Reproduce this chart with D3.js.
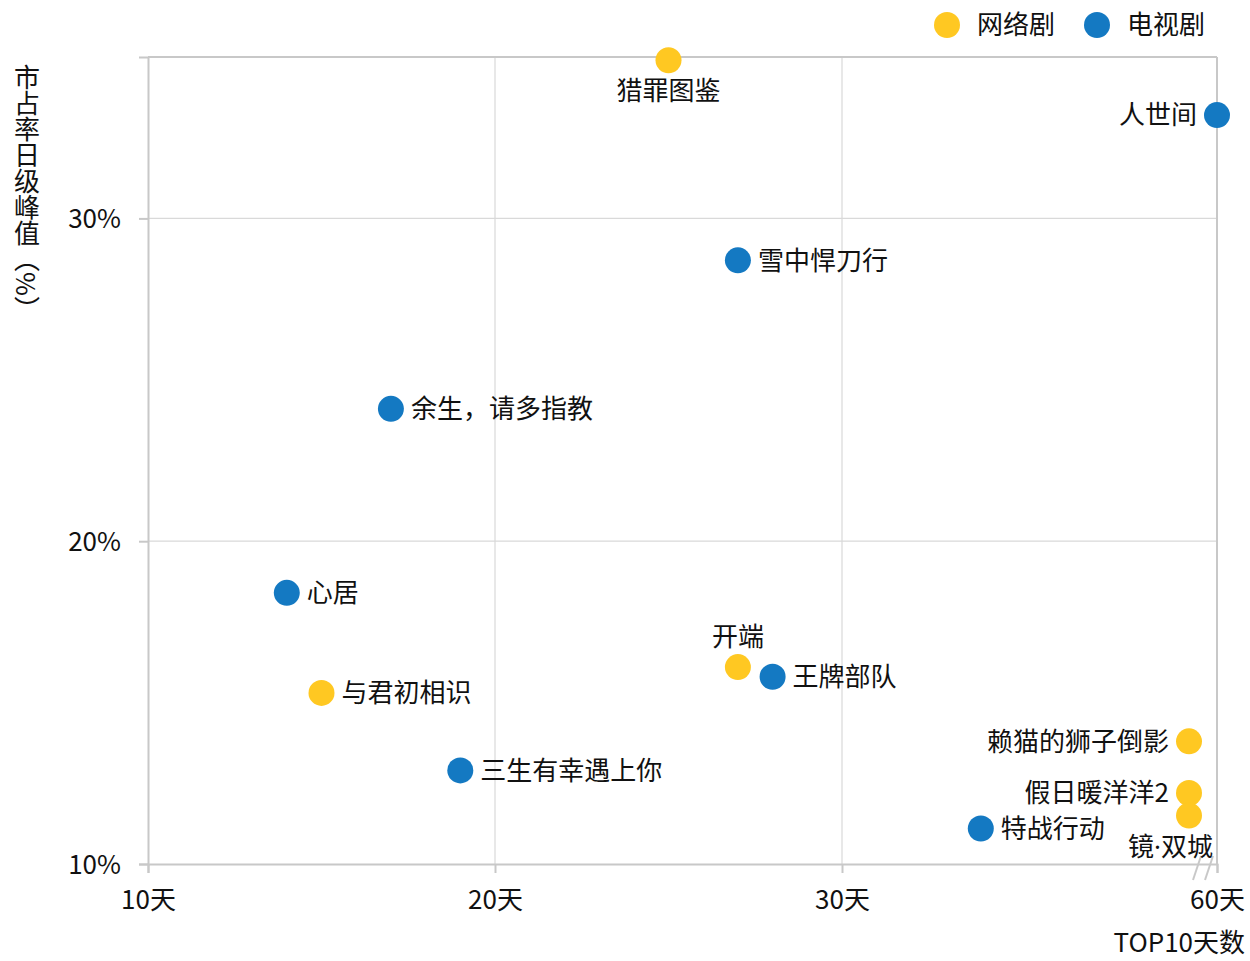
<!DOCTYPE html>
<html><head><meta charset="utf-8">
<script src="https://cdn.jsdelivr.net/npm/d3@7"></script>
<style>
html,body{margin:0;padding:0;background:#fff;}
text{font-family:"Noto Sans CJK SC","Noto Sans",sans-serif;fill:#111;}
</style></head>
<body><svg id="c" width="1250" height="961"></svg>
<script>
// ---- data ----
const names = ["猎罪图鉴","人世间","雪中悍刀行","余生，请多指教","心居","开端","王牌部队","与君初相识","三生有幸遇上你","特战行动","赖猫的狮子倒影","假日暖洋洋2","镜·双城"];
const types = ["网络剧","电视剧","电视剧","电视剧","电视剧","网络剧","电视剧","网络剧","电视剧","电视剧","网络剧","网络剧","网络剧"];
const days  = [25, 60, 27, 17, 14, 27, 28, 15, 19, 34, 40, 40, 40];
const peaks = [34.9, 33.2, 28.7, 24.1, 18.4, 16.1, 15.8, 15.3, 12.9, 11.1, 13.8, 12.2, 11.5];
const seriesNames = ["网络剧","电视剧"];
const xTicks = [10, 20, 30, 60];
const xTickLabels = ["10天","20天","30天","60天"];
const yTicks = [10, 20, 30];
const yTickLabels = ["10%","20%","30%"];
// label placement (style)
const placement = ["below","left","right","right","right","above","right","right","right","right","left","left","belowLeft"];

// ---- layout ----
const svg = d3.select("#c");
const L = 148, R = 1217, T = 57, B = 864;
const x = d3.scaleLinear().domain([10, 40, 60]).range([L, 1189, R]);
const y = d3.scaleLinear().domain([10, 35]).range([B, T]);
const color = d3.scaleOrdinal().domain(seriesNames).range(["#FFC822", "#1479C2"]);
const fs = 26;

// grid
const g = svg.append("g");
g.selectAll(".hg").data(yTicks.filter(d => d > 10)).enter().append("line")
  .attr("x1", L).attr("x2", R).attr("y1", d => y(d)).attr("y2", d => y(d))
  .attr("stroke", "#d9d9d9").attr("stroke-width", 1.2);
g.selectAll(".vg").data(xTicks.filter(d => d > 10 && d < 60)).enter().append("line")
  .attr("y1", T).attr("y2", B).attr("x1", d => x(d)).attr("x2", d => x(d))
  .attr("stroke", "#d9d9d9").attr("stroke-width", 1.2);
// frame top & right
g.append("line").attr("x1", L).attr("x2", R).attr("y1", T).attr("y2", T).attr("stroke", "#c8c8c8").attr("stroke-width", 2);
g.append("line").attr("x1", R).attr("x2", R).attr("y1", T).attr("y2", B).attr("stroke", "#c8c8c8").attr("stroke-width", 2);

// axes
const xAxis = svg.append("g").attr("transform", `translate(0,${B})`)
  .call(d3.axisBottom(x).tickValues(xTicks).tickFormat((d, i) => xTickLabels[i]).tickSize(9).tickPadding(18));
const yAxis = svg.append("g").attr("transform", `translate(${L},0)`)
  .call(d3.axisLeft(y).tickValues(yTicks).tickFormat((d, i) => yTickLabels[i]).tickSize(9).tickPadding(18));
[xAxis, yAxis].forEach(a => {
  a.select(".domain").attr("stroke", "#c8c8c8").attr("stroke-width", 2);
  a.selectAll(".tick line").attr("stroke", "#c8c8c8").attr("stroke-width", 2);
  a.selectAll(".tick text").attr("font-size", fs).attr("fill", "#111");
});
yAxis.selectAll(".tick text").attr("dy", "0.36em");

// axis break marks
const bx = (x(40) + x(60)) / 2;
[-6, 6].forEach(o => {
  svg.append("line").attr("x1", bx + o - 4).attr("y1", B + 16).attr("x2", bx + o + 4).attr("y2", B - 8)
    .attr("stroke", "#c8c8c8").attr("stroke-width", 2);
});

// axis titles
svg.append("text").attr("x", 1245).attr("y", 952).attr("text-anchor", "end")
  .attr("font-size", fs).text("TOP10天数");
svg.append("text").attr("x", 27).attr("y", 64)
  .attr("style", "writing-mode:vertical-rl")
  .attr("font-size", fs).text("市占率日级峰值（%）");

// points
const data = names.map((n, i) => ({name: n, type: types[i], d: days[i], p: peaks[i], pos: placement[i]}));
svg.append("g").selectAll("circle").data(data).enter().append("circle")
  .attr("cx", d => x(d.d)).attr("cy", d => y(d.p)).attr("r", 13)
  .attr("fill", d => color(d.type));

// labels
svg.append("g").selectAll("text").data(data).enter().append("text")
  .attr("font-size", fs)
  .style("font-family", d => d.name.includes("·") ? '"Noto Sans","Noto Sans CJK SC",sans-serif' : null)
  .attr("x", d => {
    const cx = x(d.d);
    if (d.pos === "right") return cx + 20;
    if (d.pos === "left") return cx - 20;
    if (d.pos === "belowLeft") return cx + 24;
    return cx;
  })
  .attr("y", d => {
    const cy = y(d.p);
    if (d.pos === "below") return cy + 30;
    if (d.pos === "above") return cy - 30;
    if (d.pos === "belowLeft") return cy + 31;
    return cy;
  })
  .attr("dy", "0.36em")
  .attr("text-anchor", d => d.pos === "right" ? "start" : (d.pos === "left" || d.pos === "belowLeft") ? "end" : "middle")
  .text(d => d.name);

// legend
const lg = svg.append("g");
const lx = [947, 1097];
seriesNames.forEach((s, i) => {
  lg.append("circle").attr("cx", lx[i]).attr("cy", 25).attr("r", 13).attr("fill", color(s));
  lg.append("text").attr("x", lx[i] + 30).attr("y", 25).attr("dy", "0.36em").attr("font-size", fs).text(s);
});
</script></body></html>
